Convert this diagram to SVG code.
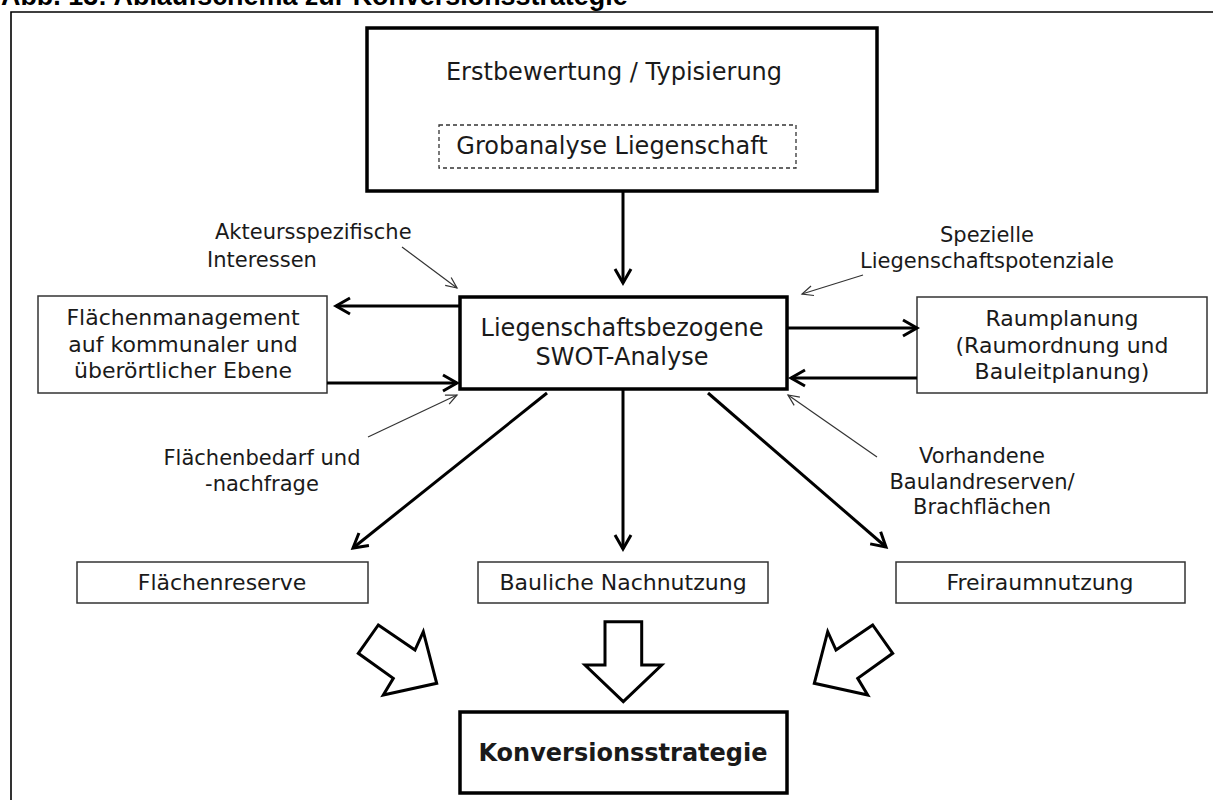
<svg xmlns="http://www.w3.org/2000/svg" width="1213" height="800" viewBox="0 0 1213 800">
  <style>
    .t { font-family: "DejaVu Sans", Verdana, sans-serif; fill: #1a1a1a; text-anchor: middle; }
    .box { font-size: 22px; }
    .main { font-size: 24px; }
    .note { font-size: 21px; }
    .thick { fill: #fff; stroke: #000; stroke-width: 3.5; }
    .thin { fill: #fff; stroke: #333; stroke-width: 1.5; }
    .con { fill: none; stroke: #000; stroke-width: 3; }
    .hint { fill: none; stroke: #333; stroke-width: 1.2; }
    .block { fill: #fff; stroke: #000; stroke-width: 3; stroke-linejoin: miter; }
  </style>
  <defs>
    <marker id="head" markerUnits="userSpaceOnUse" markerWidth="22" markerHeight="22" viewBox="0 0 22 22" refX="18" refY="11" orient="auto">
      <path d="M4,3 L18,11 L4,19" fill="none" stroke="#000" stroke-width="3"/>
    </marker>
    <marker id="headThin" markerUnits="userSpaceOnUse" markerWidth="16" markerHeight="16" viewBox="0 0 16 16" refX="13" refY="8" orient="auto">
      <path d="M2,3 L13,8 L2,13" fill="none" stroke="#333" stroke-width="1.2"/>
    </marker>
  </defs>

  <rect width="1213" height="800" fill="#fff"/>

  <!-- caption, cut by the upper edge -->
  <text x="1" y="5" font-family="'Liberation Sans', Arial, sans-serif" font-weight="bold" font-size="26.9" fill="#000">Abb. 13: Ablaufschema zur Konversionsstrategie</text>

  <!-- frame -->
  <path d="M11,800 V12 H1213" fill="none" stroke="#000" stroke-width="1.6"/>

  <g id="erstbewertung">
    <rect class="thick" x="367" y="28" width="510" height="163"/>
    <text class="t main" x="614" y="80">Erstbewertung / Typisierung</text>
    <rect x="439" y="125" width="357" height="43" fill="none" stroke="#333" stroke-width="1.3" stroke-dasharray="4 3"/>
    <text class="t main" x="612" y="154">Grobanalyse Liegenschaft</text>
  </g>

  <g id="swot">
    <rect class="thick" x="460" y="297" width="327" height="92"/>
    <text class="t main" x="622" y="336">Liegenschaftsbezogene</text>
    <text class="t main" x="622" y="365">SWOT-Analyse</text>
  </g>

  <g id="flaechenmanagement">
    <rect class="thin" x="38" y="296" width="289" height="97"/>
    <text class="t box" x="183" y="325">Flächenmanagement</text>
    <text class="t box" x="183" y="352">auf kommunaler und</text>
    <text class="t box" x="183" y="378">überörtlicher Ebene</text>
  </g>

  <g id="raumplanung">
    <rect class="thin" x="917" y="297" width="290" height="96"/>
    <text class="t box" x="1062" y="326">Raumplanung</text>
    <text class="t box" x="1062" y="353">(Raumordnung und</text>
    <text class="t box" x="1062" y="379">Bauleitplanung)</text>
  </g>

  <g id="flaechenreserve">
    <rect class="thin" x="77" y="562" width="291" height="41"/>
    <text class="t box" x="222" y="590">Flächenreserve</text>
  </g>

  <g id="bauliche-nachnutzung">
    <rect class="thin" x="478" y="562" width="290" height="41"/>
    <text class="t box" x="623" y="590">Bauliche Nachnutzung</text>
  </g>

  <g id="freiraumnutzung">
    <rect class="thin" x="896" y="562" width="289" height="41"/>
    <text class="t box" x="1040" y="590">Freiraumnutzung</text>
  </g>

  <g id="konversionsstrategie">
    <rect class="thick" x="460" y="712" width="327" height="81"/>
    <text class="t" x="623" y="761" font-size="24" font-weight="bold" fill="#000">Konversionsstrategie</text>
  </g>

  <!-- influencing factors -->
  <g id="labels">
    <text class="t note" x="215" y="239" text-anchor="start" style="text-anchor:start">Akteursspezifische</text>
    <text class="t note" x="207" y="267" style="text-anchor:start">Interessen</text>
    <text class="t note" x="987" y="242">Spezielle</text>
    <text class="t note" x="987" y="268">Liegenschaftspotenziale</text>
    <text class="t note" x="262" y="465">Flächenbedarf und</text>
    <text class="t note" x="262" y="491">-nachfrage</text>
    <text class="t note" x="982" y="463">Vorhandene</text>
    <text class="t note" x="982" y="489">Baulandreserven/</text>
    <text class="t note" x="982" y="514">Brachflächen</text>
  </g>

  <g id="connectors">
    <path class="con" d="M623,191 L623,283" marker-end="url(#head)"/>
    <path class="con" d="M460,306 L336,306" marker-end="url(#head)"/>
    <path class="con" d="M327,383 L457,383" marker-end="url(#head)"/>
    <path class="con" d="M787,328 L917,328" marker-end="url(#head)"/>
    <path class="con" d="M917,378 L791,378" marker-end="url(#head)"/>
    <path class="con" d="M547,393 L353,548" marker-end="url(#head)"/>
    <path class="con" d="M623,389 L623,549" marker-end="url(#head)"/>
    <path class="con" d="M708,393 L886,547" marker-end="url(#head)"/>

    <path class="hint" d="M402,247 L457,288" marker-end="url(#headThin)"/>
    <path class="hint" d="M863,275 L802,294" marker-end="url(#headThin)"/>
    <path class="hint" d="M368,437 L457,395" marker-end="url(#headThin)"/>
    <path class="hint" d="M877,457 L788,395" marker-end="url(#headThin)"/>

    <!-- outlined block arrows into the strategy -->
    <polygon class="block" points="378.3,625 415,650 423.3,631.7 436.7,683.3 383.3,695 393.3,678.3 358.3,653.3"/>
    <polygon class="block" points="605,621.7 641.7,621.7 641.7,665 661.7,665 623.3,701.7 585,665 605,665"/>
    <polygon class="block" points="872.7,625 836,650 827.7,631.7 814.3,683.3 867.7,695 857.7,678.3 892.7,653.3"/>
  </g>
</svg>
